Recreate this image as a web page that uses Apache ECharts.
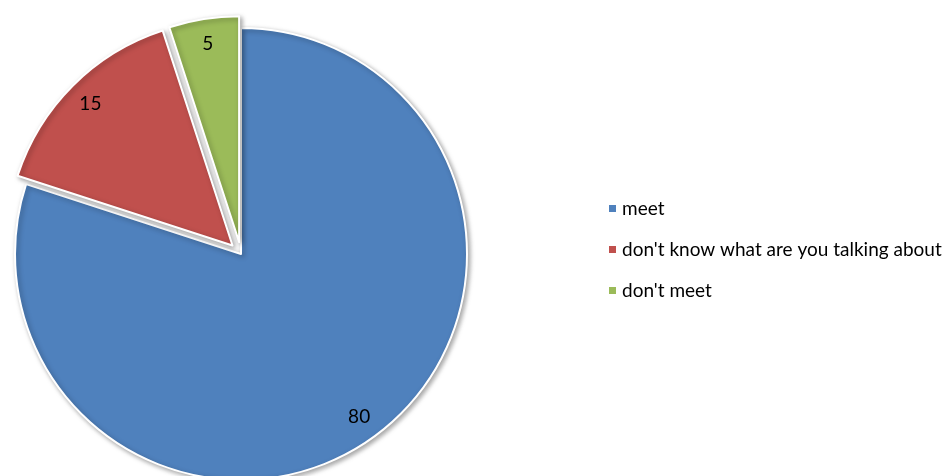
<!DOCTYPE html>
<html><head><meta charset="utf-8">
<script src="https://cdn.jsdelivr.net/npm/echarts@6/dist/echarts.min.js"></script>
<style>html,body{margin:0;padding:0;background:#fff}#c{width:945px;height:476px}</style>
</head><body><div id="c"></div>
<script>
const categories = ["meet", "don't know what are you talking about", "don't meet"];
const values = [80, 15, 5];
const exploded = [false, true, true];
const colors = ['#4F81BD', '#C0504D', '#9BBB59'];

const chart = echarts.init(document.getElementById('c'), null, {renderer: 'canvas'});
const FONT = 'Lato';
const mainData = categories.map((n, i) => ({name: n, value: values[i], selected: exploded[i], itemStyle: {color: colors[i]}}));
const labelData = categories.map((n, i) => ({name: n, value: values[i], selected: exploded[i]}));
chart.setOption({
  animation: false,
  legend: {
    orient: 'vertical', left: 602, top: 194, padding: 5,
    itemWidth: 9, itemHeight: 9, itemGap: 22, icon: 'rect',
    data: categories,
    textStyle: {fontFamily: FONT, fontSize: 19, color: '#000'}
  },
  series: [{
    type: 'pie', center: [241, 254], radius: [0, 226], startAngle: 90,
    selectedMode: 'multiple', selectedOffset: 12,
    label: {show: false}, labelLine: {show: false},
    itemStyle: {borderColor: '#fff', borderWidth: 2, shadowBlur: 5, shadowColor: 'rgba(0,0,0,0.35)', shadowOffsetX: 2, shadowOffsetY: 2},
    emphasis: {disabled: true},
    data: mainData
  }, {
    type: 'pie', center: [241, 254], radius: [174, 222], startAngle: 90,
    selectedMode: 'multiple', selectedOffset: 12, silent: true,
    itemStyle: {color: 'rgba(0,0,0,0)'},
    label: {show: true, position: 'inside', formatter: '{c}', fontFamily: FONT, fontSize: 19, color: '#000'},
    labelLine: {show: false},
    emphasis: {disabled: true},
    data: labelData
  }]
});
</script></body></html>
